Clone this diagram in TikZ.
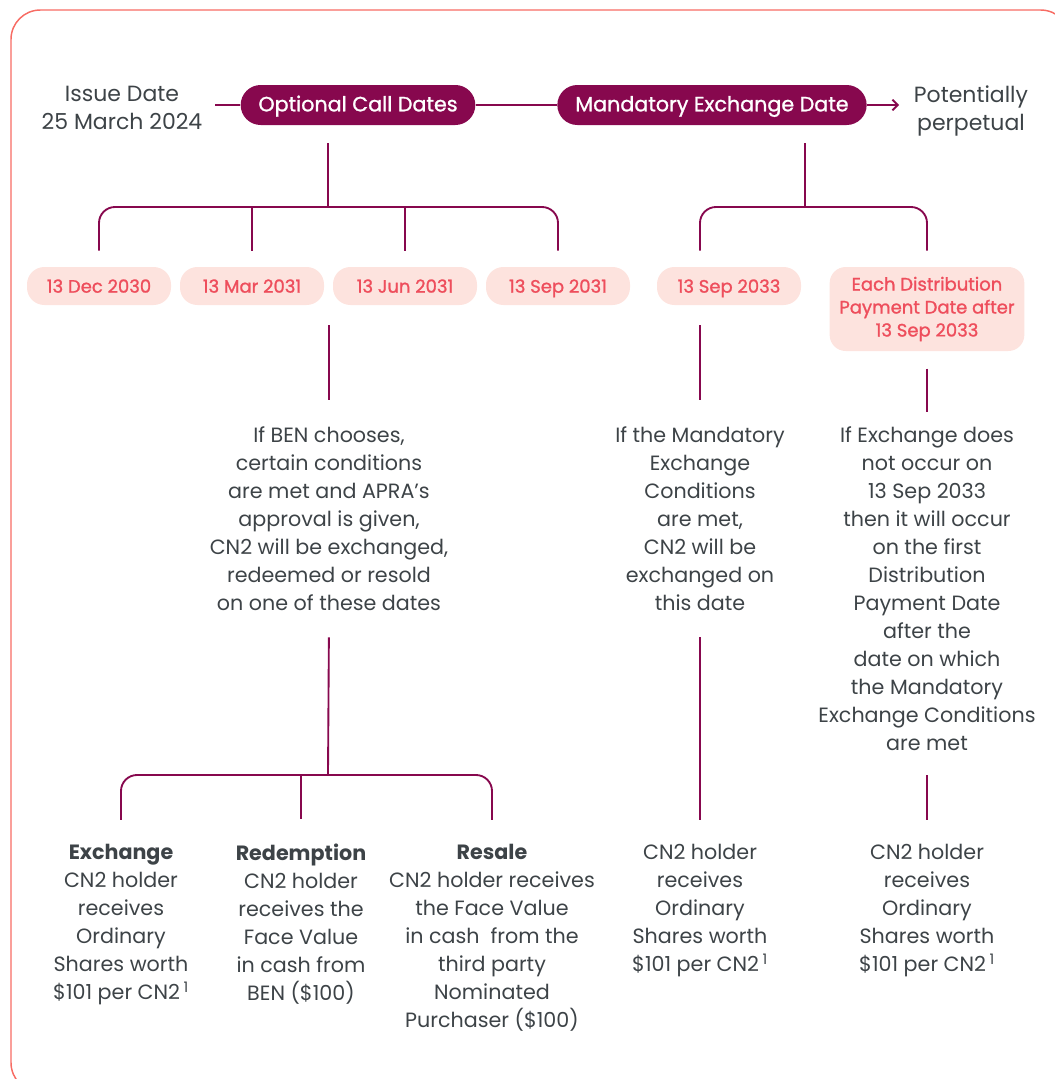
\documentclass[tikz,border=0pt]{standalone}
\usepackage{fontspec}
\setmainfont{Poppins}
\newfontfamily\pillfont{Poppins}[FakeBold=1.2]
\usepackage{tikz}
\usetikzlibrary{arrows.meta}

\definecolor{maroon}{HTML}{87084E}
\definecolor{textgrey}{HTML}{3D4347}
\definecolor{datered}{HTML}{EE4E5C}
\definecolor{datefill}{HTML}{FDE3DE}
\definecolor{framered}{HTML}{F76C64}

\tikzset{
	info/.style={text=textgrey, align=center, inner sep=0pt, font=\fontsize{15.5}{21}\selectfont,
		execute at begin node=\strut, execute at end node=\strut},
	pill/.style={fill=maroon, text=white, font=\pillfont\fontsize{15.5}{18}\selectfont,
		rounded corners=15pt, minimum height=30pt, text height=11pt, text depth=1.5pt},
	datebox/.style={fill=datefill, text=datered, align=center, font=\pillfont\fontsize{13.5}{17.25}\selectfont,
		rounded corners=13pt, minimum height=28.5pt, minimum width=108pt},
	dateline/.style={datebox, text height=11pt, text depth=1pt},
	link/.style={draw=maroon, line width=1.4pt}
}

\begin{document}
\begin{tikzpicture}[x=0.75pt,y=-0.75pt]
	\useasboundingbox (0,0) rectangle (1054,1079);
	\draw[framered, line width=1.1pt, rounded corners=22pt] (11,10) rectangle (1070,1092);

	% time line
	\node[info, font=\fontsize{16.5}{21}\selectfont] (issue) at (122,112) {Issue Date\\25 March 2024};
	\node[pill, minimum width=176pt] (ocd) at (358,105) {Optional Call Dates};
	\node[pill, minimum width=232pt] (med) at (712,105) {Mandatory Exchange Date};
	\node[info, font=\fontsize{16.5}{21}\selectfont] (perp) at (971,112) {Potentially\\perpetual};
	\coordinate (tstart) at (215,105);
	\coordinate (tend) at (899,105);
	\draw[link] (tstart) -- (ocd);
	\draw[link] (ocd) -- (med);
	\draw[link, -{Straight Barb[length=4pt,width=8pt]}] (med) -- (tend);

	% dates
	\node[dateline] (d1) at (99,286) {13 Dec 2030};
	\node[dateline] (d2) at (252,286) {13 Mar 2031};
	\node[dateline] (d3) at (405,286) {13 Jun 2031};
	\node[dateline] (d4) at (558,286) {13 Sep 2031};
	\node[dateline] (d5) at (729,286) {13 Sep 2033};
	\node[datebox, minimum width=146pt, minimum height=63pt, rounded corners=12pt] (d6) at (927,309)
		{Each Distribution\\Payment Date after\\13 Sep 2033};

	\coordinate (lb) at (328,207);
	\coordinate (rb) at (805,207);
	\draw[link, shorten <=13.5pt] (lb |- ocd.south) -- (lb);
	\draw[link, shorten <=13.5pt] (rb |- med.south) -- (rb);
	\draw[link, rounded corners=12pt, shorten <=12pt, shorten >=12pt] (d1.north) |- (lb) -| (d4.north);
	\foreach \d in {d2,d3}
		\draw[link, shorten >=12pt] (\d.north |- lb) -- (\d.north);

	% conditions
	\node[info] (ctxt) at (329,523) {If BEN chooses,\\certain conditions\\are met and APRA's\\approval is given,\\CN2 will be exchanged,\\redeemed or resold\\on one of these dates};
	\node[info] (mtxt) at (700,523) {If the Mandatory\\Exchange\\Conditions\\are met,\\CN2 will be\\exchanged on\\this date};
	\node[info] (etxt) at (927,593) {If Exchange does\\not occur on\\13 Sep 2033\\then it will occur\\on the first\\Distribution\\Payment Date\\after the\\date on which\\the Mandatory\\Exchange Conditions\\are met};

	\draw[link, rounded corners=12pt, shorten <=12pt, shorten >=12pt] (d5.north -| mtxt) |- (rb) -| (d6.north);
	\draw[link, shorten <=15pt, shorten >=20pt] (d2.south -| ctxt) -- (ctxt.north);
	\draw[link, shorten <=15pt, shorten >=20pt] (d5.south -| mtxt) -- (mtxt.north);
	\draw[link, shorten <=13pt, shorten >=11pt] (d6.south) -- (etxt.north);

	% outcomes
	\node[info] (exch) at (121,926) {\textbf{Exchange}\\CN2 holder\\receives\\Ordinary\\Shares worth\\\$101 per CN2\,\textsuperscript{1}};
	\node[info] (redm) at (301,926) {\textbf{Redemption}\\CN2 holder\\receives the\\Face Value\\in cash from\\BEN (\$100)};
	\node[info] (resl) at (492,940) {\textbf{Resale}\\CN2 holder receives\\the Face Value\\in cash\ \ from the\\third party\\Nominated\\Purchaser (\$100)};
	\node[info] (mout) at (700,912) {CN2 holder\\receives\\Ordinary\\Shares worth\\\$101 per CN2\,\textsuperscript{1}};
	\node[info] (eout) at (927,912) {CN2 holder\\receives\\Ordinary\\Shares worth\\\$101 per CN2\,\textsuperscript{1}};

	\coordinate (bb) at (328,775);
	\draw[link, shorten <=13.5pt] (ctxt.south) -- (bb);
	\draw[link, rounded corners=12pt, shorten <=18pt, shorten >=18pt] (exch.north) |- (bb) -| (resl.north);
	\draw[link, shorten >=18pt] (redm.north |- bb) -- (redm.north);
	\draw[link, shorten <=13.5pt, shorten >=18pt] (mtxt.south) -- (mout.north);
	\draw[link, shorten <=12pt, shorten >=18pt] (etxt.south) -- (eout.north);
\end{tikzpicture}
\end{document}
